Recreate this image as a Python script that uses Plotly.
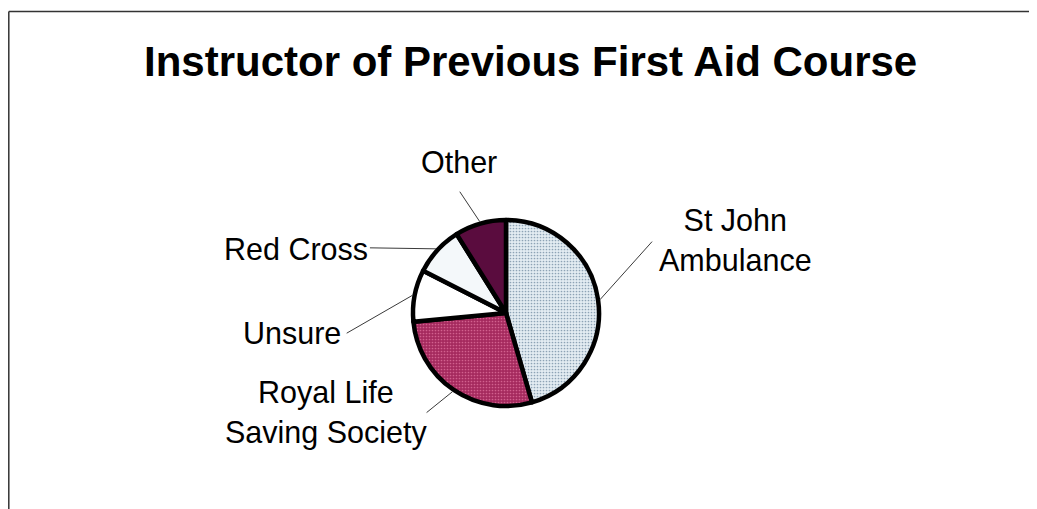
import math
import plotly.graph_objects as go

# ---- data ----
categories = ["St John<br>Ambulance", "Royal Life<br>Saving Society", "Unsure", "Red Cross", "Other"]
values = [45.5, 28.0, 9.0, 8.6, 8.9]
colors = ["#e3ecf2", "#a52a5e", "#ffffff", "#f4f8fa", "#5a0c3e"]
pattern_shapes = [".", ".", "", "", ""]
pattern_fg = ["#8da3b5", "#d2608e", "#ffffff", "#ffffff", "#3c0528"]
title_text = "Instructor of Previous First Aid Course"

W, H = 1037, 509
OFF = 8                            # page body margin (px)
CX, CY, R = 506, 313, 93          # pie centre and radius (page px)
R_EDGE = 95                        # outer edge of the black outline

# label placement (text centre in page px, leader-line tail offset from slice rim)
label_pos = [(735, 240), (326, 412), (292, 333), (296, 249), (459, 162)]
leader_off = [(52, -58), (-26, 21), (-66, 38), (-66, -1), (-20, -30)]

def px(x):
    return (x - OFF) / W

def py(y):
    return 1 - (y - OFF) / H

fig = go.Figure()
fig.add_trace(go.Pie(
    labels=[c.replace("<br>", " ") for c in categories],
    values=values,
    sort=False,
    direction="clockwise",
    rotation=0,
    textinfo="none",
    hoverinfo="label+percent",
    showlegend=False,
    marker=dict(
        colors=colors,
        line=dict(color="#000000", width=4.5),
        pattern=dict(shape=pattern_shapes, fgcolor=pattern_fg, bgcolor=colors,
                     size=3, solidity=0.25, fillmode="replace"),
    ),
    domain=dict(x=[px(CX - R), px(CX + R)], y=[py(CY + R), py(CY - R)]),
))

# leader lines from each slice's mid-angle on the rim
total = sum(values)
cum = 0.0
shapes = []
for v, (ox, oy) in zip(values, leader_off):
    mid = (cum + v / 2) / total * 2 * math.pi
    cum += v
    ex = CX + R_EDGE * math.sin(mid)
    ey = CY - R_EDGE * math.cos(mid)
    shapes.append(dict(type="line", xref="paper", yref="paper",
                       x0=px(ex), y0=py(ey), x1=px(ex + ox), y1=py(ey + oy),
                       line=dict(color="#3a3a3a", width=1)))

# frame lines
shapes.append(dict(type="line", xref="paper", yref="paper", x0=px(8.8), y0=py(11.5), x1=1, y1=py(11.5),
                   line=dict(color="#333333", width=1.5)))
shapes.append(dict(type="line", xref="paper", yref="paper", x0=px(8.8), y0=py(11.5), x1=px(8.8), y1=0,
                   line=dict(color="#333333", width=1.5)))

annotations = [dict(text=f"<b>{title_text}</b>", x=px(530), y=py(61), xref="paper", yref="paper",
                    showarrow=False, xanchor="center", yanchor="middle",
                    font=dict(family="Liberation Sans, Arial, sans-serif", size=42, color="#000000"))]
for c, (lx, ly) in zip(categories, label_pos):
    annotations.append(dict(text=c, x=px(lx), y=py(ly), xref="paper", yref="paper",
                            showarrow=False, xanchor="center", yanchor="middle", align="center",
                            font=dict(family="Liberation Sans, Arial, sans-serif", size=30.5, color="#000000")))

fig.update_layout(
    width=W, height=H,
    margin=dict(l=0, r=0, t=0, b=0),
    paper_bgcolor="#ffffff",
    plot_bgcolor="#ffffff",
    shapes=shapes,
    annotations=annotations,
)

fig.write_html("out.html")
